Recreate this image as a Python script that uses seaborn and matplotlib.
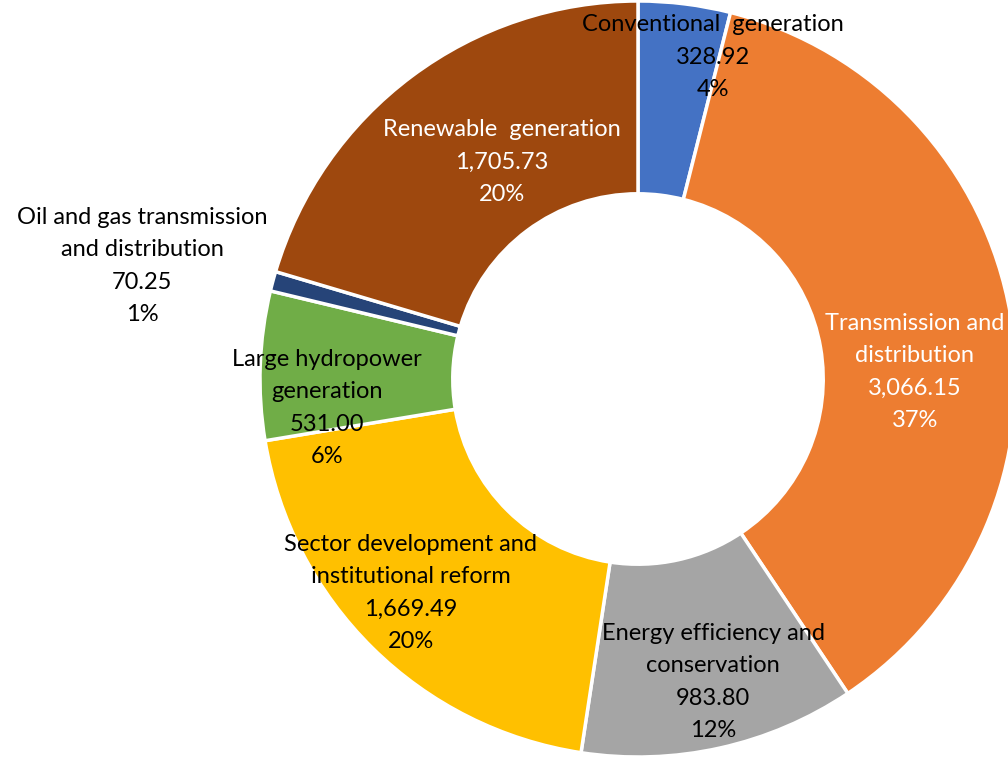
import matplotlib
matplotlib.use("Agg")
import matplotlib.pyplot as plt
import seaborn as sns

# Данные (по часовой стрелке от 12 часов)
categories = [
    "Conventional  generation",
    "Transmission and\ndistribution",
    "Energy efficiency and\nconservation",
    "Sector development and\ninstitutional reform",
    "Large hydropower\ngeneration",
    "Oil and gas transmission\nand distribution",
    "Renewable  generation",
]
values = [328.92, 3066.15, 983.80, 1669.49, 531.00, 70.25, 1705.73]
colors = ["#4472C4", "#ED7D31", "#A5A5A5", "#FFC000", "#70AD47", "#264478", "#9E480E"]
text_colors = ["black", "white", "black", "black", "black", "black", "white"]

# Положения подписей в пикселях (центр блока текста)
label_px = [(713, 57), (915, 372), (713, 682), (411, 593), (327, 408), (142, 266), (502, 162)]

sns.set_style("white")
plt.rcParams["font.family"] = ["Lato", "DejaVu Sans"]

W, H = 1008, 760
cx, cy, R = 638, 379, 378
fig = plt.figure(figsize=(W / 100, H / 100), dpi=100)
ax = fig.add_axes([(cx - R) / W, (H - cy - R) / H, 2 * R / W, 2 * R / H])

ax.pie(values, colors=colors, startangle=90, counterclock=False, radius=1,
       wedgeprops=dict(width=0.51, edgecolor="white", linewidth=2.5))
ax.set_xlim(-1, 1)
ax.set_ylim(-1, 1)
ax.set_aspect("equal")
ax.axis("off")

total = sum(values)
for name, v, tc, (px, py) in zip(categories, values, text_colors, label_px):
    txt = f"{name}\n{v:,.2f}\n{v / total:.0%}"
    ax.text((px - cx) / R, (cy - py) / R, txt, ha="center", va="center",
            fontsize=17, color=tc, linespacing=1.65, clip_on=False)

fig.savefig("out.png", dpi=100)
